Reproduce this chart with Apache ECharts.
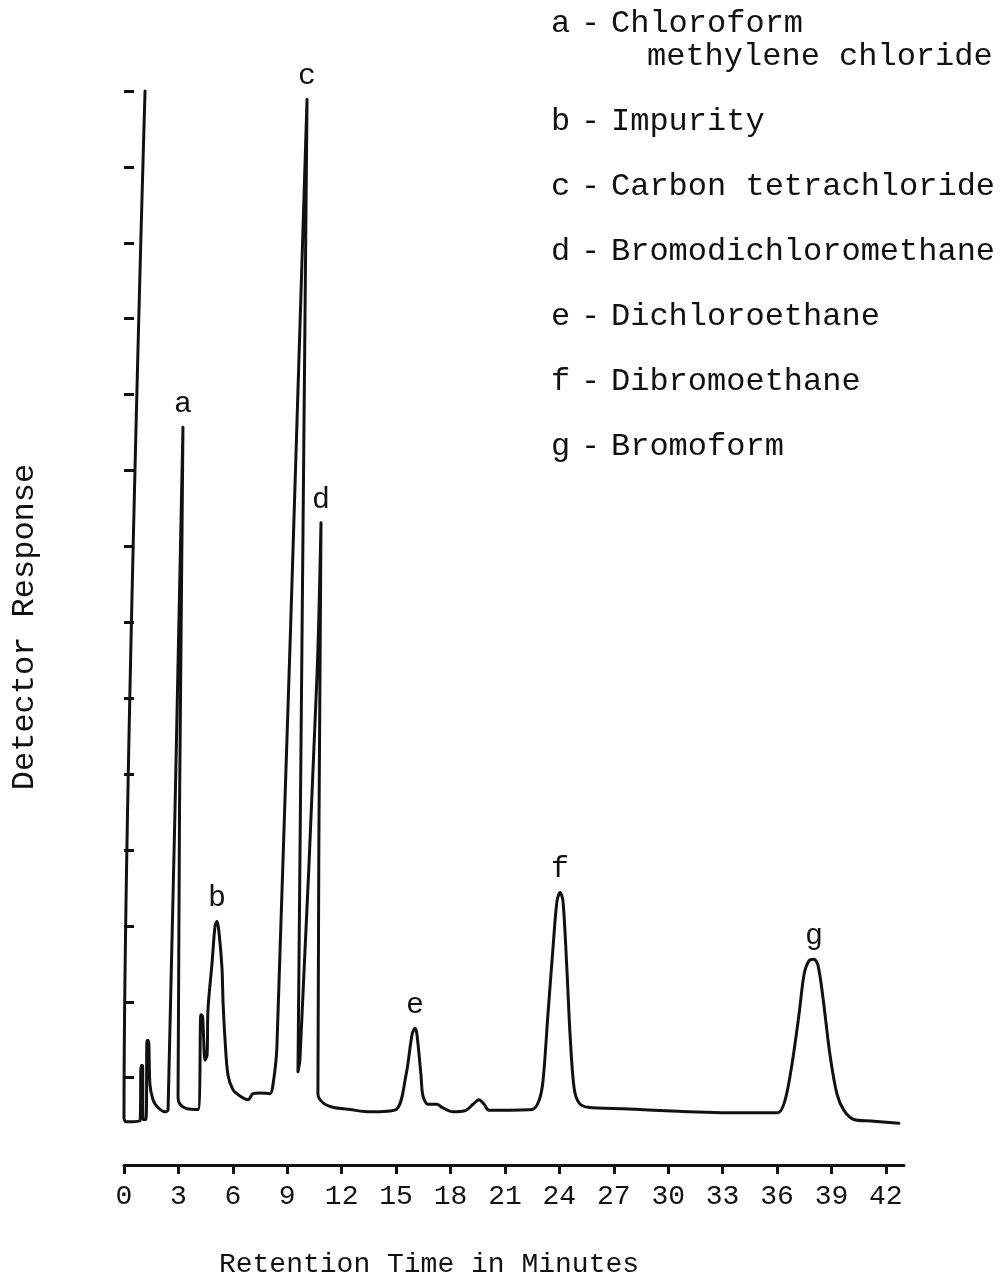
<!DOCTYPE html>
<html>
<head>
<meta charset="utf-8">
<title>Chromatogram</title>
<script src="https://cdn.jsdelivr.net/npm/echarts@6/dist/echarts.min.js"></script>
<style>
    html, body { margin: 0; padding: 0; background: #fff; }
    #chart { width: 1001px; height: 1279px; }
</style>
</head>
<body>
<div id="chart"></div>
<script>
// trace, in pen order (the tall peaks lean back because of the pen arc)
// time in minutes, response in chart units (one y tick = 10)
var times = [1.16, 0, 0.11, 0.88, 0.94, 1.02, 1.05, 1.21, 1.27, 1.35,
    1.43, 1.60, 1.82, 2.26, 2.43, 3.25, 2.98, 3.09, 3.47, 4.08,
    4.24, 4.33, 4.47, 4.58, 4.63, 4.85, 5.02, 5.13, 5.24, 5.40,
    5.46, 5.57, 5.73, 6.01, 6.39, 6.84, 7.11, 7.50, 8.05, 8.21,
    8.43, 10.09, 9.59, 9.70, 10.64, 10.86, 10.69, 10.97, 11.52, 12.46,
    13.56, 14.99, 15.55, 15.88, 16.04, 16.15, 16.37, 16.48, 16.76, 17.25,
    17.53, 18.14, 18.85, 19.24, 19.57, 19.85, 20.12, 22.49, 22.88, 23.10,
    23.37, 23.65, 23.87, 24.04, 24.20, 24.42, 24.59, 24.81, 25.08, 25.58,
    27.51, 33.24, 36.05, 36.44, 36.82, 37.21, 37.49, 37.76, 38.04, 38.26,
    38.53, 38.92, 39.31, 39.69, 40.24, 41.18, 42.72]
var response = [140.0, 4.7, 4.2, 4.3, 11.6, 11.6, 4.5, 4.5, 14.9, 14.9,
    9.1, 7.1, 6.2, 5.5, 5.8, 95.7, 7.4, 6.5, 5.9, 5.8,
    18.3, 18.1, 12.3, 13.0, 19.0, 25.0, 30.0, 30.6, 29.1, 24.5,
    20.0, 15.0, 10.4, 8.4, 7.6, 7.1, 7.9, 8.0, 7.9, 9.0,
    14.1, 138.9, 10.8, 12.4, 63.0, 83.1, 7.9, 6.7, 6.1, 5.8,
    5.5, 5.8, 10.4, 15.7, 16.5, 15.7, 10.4, 7.6, 6.5, 6.5,
    6.1, 5.5, 5.7, 6.5, 7.1, 6.5, 5.7, 5.8, 7.0, 9.6,
    18.3, 27.1, 33.3, 34.4, 33.3, 24.1, 15.7, 8.7, 6.7, 6.1,
    5.9, 5.4, 5.4, 7.0, 11.7, 18.3, 23.6, 25.4, 25.6, 24.8,
    20.6, 13.0, 7.8, 5.7, 4.5, 4.3, 4.0]

var peakNames = ['a', 'b', 'c', 'd', 'e', 'f', 'g']
var peakTimes = [3.25, 5.13, 10.09, 10.86, 16.04, 24.04, 38.04]
var peakHeights = [95.7, 30.6, 138.9, 83.1, 16.5, 34.4, 25.6]

var compounds = [
    ['Chloroform', 'methylene chloride'],
    ['Impurity'],
    ['Carbon tetrachloride'],
    ['Bromodichloromethane'],
    ['Dichloroethane'],
    ['Dibromoethane'],
    ['Bromoform']
]

var xTicks = [0, 3, 6, 9, 12, 15, 18, 21, 24, 27, 30, 33, 36, 39, 42]
var yTicks = [10, 20, 30, 40, 50, 60, 70, 80, 90, 100, 110, 120, 130, 140]

var ink = '#111'
var font = '"Liberation Mono", "DejaVu Sans Mono", monospace'

var trace = []
for (var i = 0; i < times.length; i++) {
    trace.push([times[i], response[i]])
}
var peaks = []
for (var j = 0; j < peakNames.length; j++) {
    peaks.push([peakTimes[j], peakHeights[j], peakNames[j]])
}

// key on the upper right, typed text
var graphics = []
var rowY = 24
for (var k = 0; k < peakNames.length; k++) {
    var st = { fontFamily: font, fontSize: 32, fill: ink, verticalAlign: 'middle' }
    graphics.push({ type: 'text', x: 551, y: rowY, style: Object.assign({ text: peakNames[k] }, st) })
    graphics.push({ type: 'text', x: 581, y: rowY, style: Object.assign({ text: '-' }, st) })
    graphics.push({ type: 'text', x: 611, y: rowY, style: Object.assign({ text: compounds[k][0] }, st) })
    if (compounds[k][1]) {
        rowY += 33
        graphics.push({ type: 'text', x: 647, y: rowY, style: Object.assign({ text: compounds[k][1] }, st) })
    }
    rowY += 65
}
graphics.push({
    type: 'text', x: 25, y: 627, rotation: Math.PI / 2,
    style: { text: 'Detector Response', fontFamily: font, fontSize: 32, fill: ink, align: 'center', verticalAlign: 'middle' }
})
graphics.push({
    type: 'text', x: 429, y: 1265,
    style: { text: 'Retention Time in Minutes', fontFamily: font, fontSize: 28, fill: ink, align: 'center', verticalAlign: 'middle' }
})

var myChart = echarts.init(document.getElementById('chart'))
var option = {
    animation: false,
    backgroundColor: '#fff',
    grid: {
        left: 124,
        right: 97,
        top: 53,
        bottom: 114
    },
    xAxis: {
        type: 'value',
        min: 0,
        max: 43,
        axisLine: {
            show: true,
            onZero: false,
            lineStyle: { color: ink, width: 3 }
        },
        axisTick: {
            show: true,
            customValues: xTicks,
            length: 9,
            lineStyle: { color: ink, width: 3 }
        },
        axisLabel: {
            customValues: xTicks,
            color: ink,
            fontFamily: font,
            fontSize: 28,
            margin: 18
        },
        splitLine: { show: false }
    },
    yAxis: {
        type: 'value',
        min: -1.5,
        max: 145,
        offset: -10,
        axisLine: { show: false, onZero: false },
        axisTick: {
            show: true,
            customValues: yTicks,
            length: 10,
            lineStyle: { color: ink, width: 3 }
        },
        axisLabel: { show: false },
        splitLine: { show: false }
    },
    series: [
        {
            type: 'line',
            data: trace,
            showSymbol: false,
            smooth: 0.3,
            lineStyle: { color: ink, width: 3, cap: 'round', join: 'round' },
            silent: true
        },
        {
            type: 'scatter',
            data: peaks,
            symbolSize: 0,
            silent: true,
            itemStyle: { opacity: 1 },
            label: {
                show: true,
                position: 'top',
                distance: 8,
                formatter: function(p) { return p.data[2] },
                color: ink,
                fontFamily: font,
                fontSize: 30
            }
        }
    ],
    graphic: graphics
}
myChart.setOption(option)

window.addEventListener('resize', function() {
    myChart.resize()
})
</script>
</body>
</html>
